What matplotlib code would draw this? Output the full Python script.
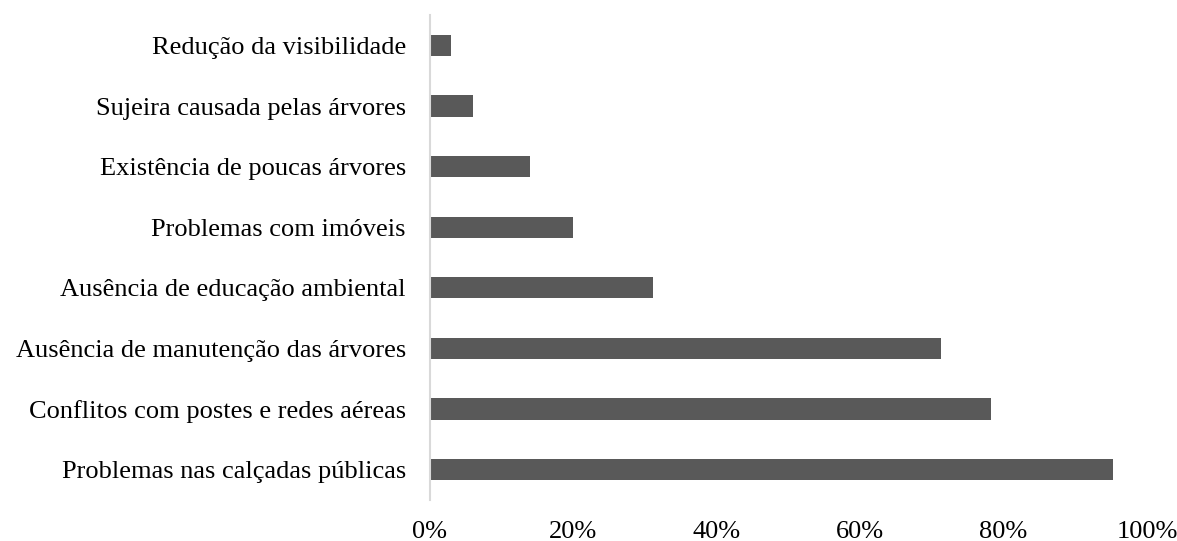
import matplotlib
matplotlib.use("Agg")
import matplotlib.pyplot as plt
from matplotlib.ticker import FuncFormatter

categories = [
    "Problemas nas calçadas públicas",
    "Conflitos com postes e redes aéreas",
    "Ausência de manutenção das árvores",
    "Ausência de educação ambiental",
    "Problemas com imóveis",
    "Existência de poucas árvores",
    "Sujeira causada pelas árvores",
    "Redução da visibilidade",
]
values = [95.3, 78.2, 71.3, 31.1, 20.0, 14.0, 6.0, 3.0]
xticks = [0, 20, 40, 60, 80, 100]

plt.rcParams["font.family"] = ["Liberation Serif", "DejaVu Serif"]

fig = plt.figure(figsize=(11.77, 5.41), dpi=100)
ax = fig.add_axes([0.365, 0.076, 0.6095, 0.896])

ax.barh(range(len(categories)), values, height=0.35, color="#595959")
ax.set_yticks(range(len(categories)))
ax.set_yticklabels(categories, fontsize=19)
ax.set_ylim(-0.5, len(categories) - 0.5)
ax.set_xlim(0, 100)
ax.set_xticks(xticks)
ax.xaxis.set_major_formatter(FuncFormatter(lambda v, p: f"{v:.0f}%"))
ax.tick_params(axis="x", length=0, pad=15, labelsize=19)
ax.tick_params(axis="y", length=0, pad=17)

for s in ["top", "right", "bottom"]:
    ax.spines[s].set_visible(False)
ax.spines["left"].set_color("#d9d9d9")
ax.spines["left"].set_linewidth(1.5)

fig.savefig("out.png", dpi=100)
